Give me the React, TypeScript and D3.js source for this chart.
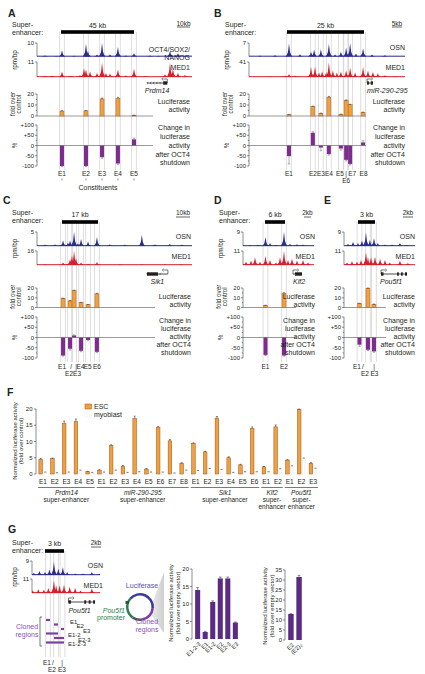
import React from "react";
import * as d3 from "d3";

const FONT = "'Liberation Sans', Arial, Helvetica, sans-serif";
const TXT = "#231f20";
const BLUE = "#2b2c8e";
const RED = "#d4202f";
const ORANGE = "#f0a040";
const ORANGE_EDGE = "#9c5410";
const PURPLE = "#7d2b8c";
const DEEP_PURPLE = "#5b2a84";
const CLONE_PURPLE = "#7e3f9c";
const GREEN = "#2f7d50";
const GUIDE = "#c8c8c8";

type Peak = [number, number];

// ===== Panel A : Prdm14 =====
const aConstituents = ["E1", "E2", "E3", "E4", "E5"];
const aPositionsKb = [0.6, 15.4, 25.3, 35.1, 45.0];
const aLuciferase = [4.5, 4.7, 15.5, 16.1, 0.7];
const aLuciferaseErr = [0.3, 0.2, 0.8, 0.8, 0.1];
const aChange = [-100, -100, -57, -88, 30];
const aChangeErr = [2, 2, 5, 4, 6];
const aOsnPeaks: Peak[] = [[-9.9, 0.8], [-3, 0.6], [0.6, 4.6], [8, 0.6], [15.4, 9.5], [16.6, 4], [22.2, 1.5], [25.3, 10], [30.2, 1.5], [35.1, 7], [40, 0.8], [45, 2.5], [54.9, 0.8], [60, 0.6], [67.2, 4], [72.1, 2.5], [77, 0.8]];
const aMedPeaks: Peak[] = [[-9.9, 1], [-5.5, 1], [0.6, 4], [6, 1], [11.7, 1.5], [14.2, 6.5], [15.4, 5.5], [17.9, 4], [22.2, 3], [25.3, 10.5], [27.7, 3], [30.2, 2.5], [35.1, 5.5], [40, 1.2], [45, 6], [52, 1], [64.1, 2], [67.2, 10.5], [69, 6], [72.1, 3], [76.4, 1.5]];

// ===== Panel B : miR-290-295 =====
const bConstituents = ["E1", "E2", "E3", "E4", "E5", "E6", "E7", "E8"];
const bPositionsKb = [0.65, 8.4, 11.0, 13.6, 17.5, 19.2, 20.5, 24.7];
const bLuciferase = [1.2, 8.7, 2.4, 17.1, 1.5, 14.3, 10.2, 3.3];
const bLuciferaseErr = [0.1, 0.3, 0.2, 0.7, 0.2, 0.3, 0.4, 0.2];
const bChange = [-52, 62, -10, -42, -15, -70, -90, 15];
const bChangeErr = [38, 5, 15, 5, 8, 5, 5, 8];
const bOsnPeaks: Peak[] = [[-8.8, 0.5], [-3.9, 0.6], [0.65, 6.8], [4.2, 1.2], [7.8, 2.5], [8.8, 3.5], [11.0, 3.7], [13.6, 6.5], [15.6, 1], [17.5, 2.5], [19.2, 4.5], [20.5, 7], [22.4, 1.5], [24.7, 4.2], [27.6, 1], [31.8, 0.6]];
const bMedPeaks: Peak[] = [[-5.5, 2], [-0.6, 4], [0.65, 8], [2.6, 4], [7.8, 27], [9.1, 29], [10.4, 12], [11.4, 16], [12.7, 12], [13.6, 40], [14.9, 18], [16.2, 12], [17.5, 15], [19.2, 18], [20.5, 25], [22.1, 12], [24.7, 27], [26.3, 18], [27.9, 14], [29.5, 10], [31.8, 5], [35.1, 2]];

// ===== Panel C : Sik1 =====
const cConstituents = ["E1", "E2", "E3", "E4", "E5", "E6"];
const cPositionsKb = [0.5, 3.8, 5.7, 9.0, 12.3, 16.5];
const cLuciferase = [9.4, 6.8, 17.2, 5.0, 2.8, 14.0];
const cLuciferaseErr = [0.2, 0.2, 0.5, 0.3, 0.2, 0.5];
const cChange = [-88, -55, 10, -65, -12, -70];
const cChangeErr = [3, 6, 3, 4, 4, 4];
const cOsnPeaks: Peak[] = [[-8, 0.5], [-3.3, 0.6], [0.5, 2], [2.8, 1.2], [3.8, 2], [5.7, 5], [7.5, 1], [9.0, 2.5], [12.3, 1.6], [16.5, 3.2], [22.6, 0.6], [29.7, 0.5], [37.7, 4], [43.9, 0.6], [50.9, 0.7], [56.6, 0.5]];
const cMedPeaks: Peak[] = [[-8, 0.8], [0.5, 3], [2.4, 1.5], [3.8, 7], [4.7, 11], [5.7, 16], [6.6, 8], [9, 3], [12.3, 1.5], [16.5, 3.5], [27.4, 0.8], [37.7, 1], [48.6, 0.8], [56, 0.8]];

// ===== Panel D : Klf2 =====
const dConstituents = ["E1", "E2"];
const dPositionsKb = [0.15, 5.7];
const dLuciferase = [2.2, 14.5];
const dLuciferaseErr = [0.1, 0.6];
const dChange = [-85, -88];
const dChangeErr = [3, 3];
const dOsnPeaks: Peak[] = [[-4.5, 0.6], [-2.1, 0.8], [0.15, 5.8], [1.5, 2], [3.3, 0.8], [5.7, 9], [7.5, 1.5], [9.6, 1.2], [11.4, 1]];
const dMedPeaks: Peak[] = [[-5.7, 2.5], [-4.2, 3.5], [-3, 6], [-1.5, 2.5], [0.15, 7], [1.5, 4], [3.3, 2], [4.5, 6], [5.7, 11], [6.9, 4], [8.1, 5], [9.6, 3.5], [11.4, 4], [12.9, 2]];

// ===== Panel E : Pou5f1 =====
const eConstituents = ["E1", "E2", "E3"];
const ePositionsKb = [0.26, 1.76, 2.82];
const eLuciferase = [4.3, 19.8, 3.3];
const eLuciferaseErr = [0.1, 0.2, 0.2];
const eChange = [-35, -60, -68];
const eChangeErr = [8, 4, 4];
const eOsnPeaks: Peak[] = [[-1.76, 1.5], [-0.88, 2.5], [0, 2], [0.7, 3.5], [1.41, 8.5], [2.1, 4], [2.82, 5], [3.5, 2], [4.76, 1], [6, 1], [7.4, 2], [8.6, 0.8]];
const eMedPeaks: Peak[] = [[-1.94, 2], [-1.06, 3], [-0.18, 2.5], [0.53, 4], [1.41, 10], [1.76, 6], [2.3, 6], [3.0, 6.5], [3.9, 5], [4.76, 4], [5.6, 2], [7.4, 3.5], [8.8, 1.5]];

// ===== Panel F : ESC vs myoblast =====
const fGroupNames = ["Prdm14", "miR-290-295", "Sik1", "Klf2", "Pou5f1"];
const fGroupSubtitles = [["super-enhancer"], ["super-enhancer"], ["super-enhancer"], ["super-", "enhancer"], ["super-", "enhancer"]];
const fMyoblast = [0.6, 0.4, 0.6, 1.2, 0.5, 0.6, 1.2, 0.5, 0.7, 0.6, 0.6, 0.3, 1.2, 1.1, 1.7, 1.4, 0.5, 0.7, 0.7, 0.7, 1.6, 2.5, 4.9, 1.8];
const fTicks = [0, 5, 10, 15, 20];

// ===== Panel G : Pou5f1 cloned regions =====
const gPositionsKb = [0.47, 1.74, 2.76];
const gClones = ["E1", "E2", "E3", "E1-2", "E2-3", "E1-2-3"];
const gCloneStartKb = [0.16, 1.42, 2.53, 0.16, 1.42, 0.16];
const gCloneEndKb = [0.79, 2.05, 3.0, 2.05, 3.0, 3.0];
const gBarLabels = ["E1-2-3", "E1", "E1-2", "E2", "E2-3", "E3"];
const gBarValues = [14, 2, 10.6, 17.3, 17.3, 4.7];
const gBarErr = [0.7, 0.2, 0.3, 0.4, 0.4, 0.15];
const gTicks = [0, 5, 10, 15, 20];
const gDimerLabels = ["E2", "(E2)\u2082"];
const gDimerValues = [13, 31.5];
const gDimerErr = [0.2, 0.8];
const gDimerTicks = [0, 5, 10, 15, 20, 25, 30, 35];

const lucTicks = [0, 10, 20];
const changeTicks = [100, 50, 0, -50, -100];

// ===== Layout =====
const ROW1 = { letter: 13, super1: 25, super2: 33, bar: 32, kbLabel: 26, scaleText: 23.5, scaleLine: 27, osnTop: 43, osnBase: 56.5, medTop: 62, medBase: 77, gene: 83, geneName: 90.5, lucTop: 94, lucBase: 116, lucText: [102, 110], chgTop: 125, chgBot: 166, chgTexts: [128, 137, 146, 155, 163], guideTop: 32, guideBot: 170, label1: 174, label2: 181 };
const ROW2 = { letter: 200, super1: 213, super2: 221, bar: 222, kbLabel: 215, scaleText: 213, scaleLine: 217, osnTop: 232, osnBase: 246, medTop: 251, medBase: 265, gene: 274, geneName: 281.5, lucTop: 288, lucBase: 307.5, lucText: [297, 304.5], chgTop: 317, chgBot: 358, chgTexts: [321, 329, 337, 345, 353], guideTop: 222, guideBot: 362, label1: 366.5, label2: 374 };

type LabelItem = { t: string; i: number; dx: number; row: number };

function T(props: any) {
  const { x, y, children, anchor = "start", size = 7, italic, bold, fill = TXT, rotate } = props;
  return (
    <text
      x={x}
      y={y}
      dy="0.35em"
      textAnchor={anchor}
      fontSize={size}
      fontFamily={FONT}
      fontStyle={italic ? "italic" : "normal"}
      fontWeight={bold ? "bold" : "normal"}
      fill={fill}
      transform={rotate ? `rotate(${rotate},${x},${y})` : undefined}
    >
      {children}
    </text>
  );
}

function Track({ x, peaks, yMax, top, base, x0, x1, color }: any) {
  const y = d3.scaleLinear().domain([0, yMax]).range([base, top]);
  const shape = [[-3.6, 0], [-2.2, 0.12], [-1, 0.36], [0, 1], [1, 0.36], [2.2, 0.12], [3.6, 0]];
  const area = d3.area<number[]>().x((d) => d[0]).y0(base).y1((d) => d[1]);
  return (
    <g>
      <line x1={x0} x2={x1} y1={base - 0.3} y2={base - 0.3} stroke={color} strokeWidth={1} />
      {peaks.map(([kb, h]: Peak, i: number) => {
        const cx = x(kb);
        const pts = shape.map(([dx, f]) => [Math.max(x0, Math.min(x1, cx + dx)), y(h * f)]);
        return <path key={i} d={area(pts) || ""} fill={color} />;
      })}
      <line x1={x0} x2={x0} y1={top} y2={base} stroke={TXT} strokeWidth={0.5} />
      <line x1={x0 - 2} x2={x0} y1={top} y2={top} stroke={TXT} strokeWidth={0.5} />
      <T x={x0 - 3} y={top} anchor="end" size={6}>{yMax}</T>
    </g>
  );
}

function Gene({ g, x, y, nameY }: any) {
  const x0 = x(g.start), x1 = x(g.end);
  const tss = g.strand > 0 ? x0 : x1;
  const dir = g.strand;
  const chevrons = g.chevrons ? d3.range(x0 + 2, x1 - 3, 3.2) : [];
  const nameX = g.anchor === "middle" ? (x0 + x1) / 2 : x0 + (g.nameDx || 0);
  return (
    <g>
      <line x1={x0} x2={x1} y1={y} y2={y} stroke={TXT} strokeWidth={0.8} />
      {chevrons.map((c: number, i: number) => (
        <path key={i} d={`M${c + dir * 1},${y - 1.2} L${c + dir * 2.2},${y} L${c + dir * 1},${y + 1.2}`} fill="none" stroke={TXT} strokeWidth={0.5} />
      ))}
      {g.exons.map(([a, b]: number[], i: number) => (
        <rect key={i} x={x(a)} y={y - 1.7} width={Math.max(1, x(b) - x(a))} height={3.4} fill={TXT} />
      ))}
      <path d={`M${tss},${y} L${tss},${y - 4} L${tss + dir * 4},${y - 4}`} fill="none" stroke={TXT} strokeWidth={0.6} />
      <path d={`M${tss + dir * 4},${y - 5.3} L${tss + dir * 5.6},${y - 4} L${tss + dir * 4},${y - 2.7}`} fill="none" stroke={TXT} strokeWidth={0.6} />
      <T x={nameX} y={nameY} anchor={g.anchor} italic size={7}>{g.name}</T>
    </g>
  );
}

function Header({ p, x, R }: any) {
  return (
    <g>
      <T x={p.letterX} y={R.letter} bold size={10.5}>{p.letter}</T>
      {p.superX !== undefined && (
        <g>
          <T x={p.superX} y={R.super1}>Super-</T>
          <T x={p.superX} y={R.super2}>enhancer:</T>
        </g>
      )}
      <rect x={x(0)} y={R.bar - 1.8} width={x(p.seKb) - x(0)} height={3.6} fill="#000" />
      <T x={(x(0) + x(p.seKb)) / 2} y={R.kbLabel} anchor="middle">{p.seLabel}</T>
      <T x={p.scaleRight - p.scaleWidth / 2} y={R.scaleText} anchor="middle" size={6.5}>{p.scaleText}</T>
      <line x1={p.scaleRight - p.scaleWidth} x2={p.scaleRight} y1={R.scaleLine} y2={R.scaleLine} stroke={TXT} strokeWidth={0.7} />
    </g>
  );
}

function Guides({ xs, top, bottom }: any) {
  return (
    <g>
      {xs.map((c: number, i: number) => (
        <g key={i}>
          <line x1={c - 2.4} x2={c - 2.4} y1={top} y2={bottom} stroke={GUIDE} strokeWidth={0.6} />
          <line x1={c + 2.4} x2={c + 2.4} y1={top} y2={bottom} stroke={GUIDE} strokeWidth={0.6} />
        </g>
      ))}
    </g>
  );
}

function EnhancerPanel({ p }: any) {
  const R = p.row;
  const x = d3.scaleLinear().domain([0, p.seKb]).range([p.seStartPx, p.seEndPx]);
  const cx: number[] = p.positions.map((k: number) => x(k));
  const yLuc = d3.scaleLinear().domain([0, 20]).range([R.lucBase, R.lucTop]);
  const yChg = d3.scaleLinear().domain([-100, 100]).range([R.chgBot, R.chgTop]);
  const ax = p.axisX;
  const chgLines = ["Change in", "luciferase", "activity", "after OCT4", "shutdown"];
  return (
    <g>
      <Guides xs={cx} top={R.guideTop} bottom={R.guideBot} />
      <Header p={p} x={x} R={R} />
      <Track x={x} peaks={p.osnPeaks} yMax={p.osnMax} top={R.osnTop} base={R.osnBase} x0={ax} x1={p.trackEnd} color={BLUE} />
      <Track x={x} peaks={p.medPeaks} yMax={p.medMax} top={R.medTop} base={R.medBase} x0={ax} x1={p.trackEnd} color={RED} />
      {p.osnLabel.map((s: string, i: number) => (
        <T key={i} x={p.textRight} y={R.osnTop + 5 + (p.osnLabel.length > 1 ? 2 + i * 7.2 : 0)} anchor="end">{s}</T>
      ))}
      <T x={p.textRight} y={R.medTop + 5.5} anchor="end">MED1</T>
      <Gene g={p.gene} x={x} y={R.gene} nameY={R.geneName} />
      {p.titles && (
        <g>
          <T x={ax - 22} y={(R.osnTop + R.medBase) / 2} anchor="middle" size={6.3} rotate={-90}>rpm/bp</T>
          <T x={ax - 24} y={(R.lucTop + R.lucBase) / 2 - 1} anchor="middle" size={6.3} rotate={-90}>fold over</T>
          <T x={ax - 18} y={(R.lucTop + R.lucBase) / 2 - 1} anchor="middle" size={6.3} rotate={-90}>control</T>
          <T x={ax - 22} y={yChg(0)} anchor="middle" size={6.3} rotate={-90}>%</T>
        </g>
      )}
      {/* luciferase axis */}
      <line x1={ax} x2={ax} y1={R.lucTop} y2={R.lucBase} stroke={TXT} strokeWidth={0.5} />
      {[0, 5, 10, 15, 20].map((t) => (
        <line key={t} x1={ax - (t % 10 === 0 ? 2 : 1.2)} x2={ax} y1={yLuc(t)} y2={yLuc(t)} stroke={TXT} strokeWidth={0.5} />
      ))}
      {lucTicks.map((t) => (
        <T key={t} x={ax - 3} y={yLuc(t)} anchor="end" size={6}>{t}</T>
      ))}
      <line x1={ax} x2={p.baseEnd} y1={yLuc(0)} y2={yLuc(0)} stroke="#555" strokeWidth={0.6} />
      {p.luc.map((v: number, i: number) => (
        <g key={i}>
          <rect x={cx[i] - 2} y={yLuc(v)} width={4} height={yLuc(0) - yLuc(v)} fill={ORANGE} stroke={ORANGE_EDGE} strokeWidth={0.4} />
          <line x1={cx[i]} x2={cx[i]} y1={yLuc(v)} y2={yLuc(v + p.lucErr[i])} stroke={TXT} strokeWidth={0.5} />
          <line x1={cx[i] - 1.2} x2={cx[i] + 1.2} y1={yLuc(v + p.lucErr[i])} y2={yLuc(v + p.lucErr[i])} stroke={TXT} strokeWidth={0.5} />
        </g>
      ))}
      <T x={p.textRight} y={R.lucText[0]} anchor="end">Luciferase</T>
      <T x={p.textRight} y={R.lucText[1]} anchor="end">activity</T>
      {/* change axis */}
      <line x1={ax} x2={ax} y1={R.chgTop} y2={R.chgBot} stroke={TXT} strokeWidth={0.5} />
      {[100, 75, 50, 25, 0, -25, -50, -75, -100].map((t) => (
        <line key={t} x1={ax - (t % 50 === 0 ? 2 : 1.2)} x2={ax} y1={yChg(t)} y2={yChg(t)} stroke={TXT} strokeWidth={0.5} />
      ))}
      {changeTicks.map((t) => (
        <T key={t} x={ax - 3} y={yChg(t)} anchor="end" size={6}>{t > 0 ? `+${t}` : `${t}`}</T>
      ))}
      {p.change.map((v: number, i: number) => {
        const e = v >= 0 ? v + p.changeErr[i] : v - p.changeErr[i];
        return (
          <g key={i}>
            <line x1={cx[i]} x2={cx[i]} y1={yChg(v)} y2={yChg(e)} stroke="#666" strokeWidth={0.5} />
            <line x1={cx[i] - 1.2} x2={cx[i] + 1.2} y1={yChg(e)} y2={yChg(e)} stroke="#666" strokeWidth={0.5} />
            <rect x={cx[i] - 2} y={Math.min(yChg(v), yChg(0))} width={4} height={Math.abs(yChg(v) - yChg(0))} fill={PURPLE} />
          </g>
        );
      })}
      <line x1={ax} x2={p.baseEnd} y1={yChg(0)} y2={yChg(0)} stroke="#555" strokeWidth={0.6} />
      {chgLines.map((s, i) => (
        <T key={i} x={p.textRight} y={R.chgTexts[i]} anchor="end">{s}</T>
      ))}
      {p.labels.map((l: LabelItem, k: number) => (
        <T key={k} x={cx[l.i] + l.dx} y={l.row === 1 ? R.label1 : R.label2} anchor="middle" size={6.5}>{l.t}</T>
      ))}
      {p.constituentTicks && (
        <g>
          {cx.map((c, i) => (
            <line key={i} x1={c} x2={c} y1={R.label1 + 4.5} y2={R.label1 + 6.5} stroke={TXT} strokeWidth={0.5} />
          ))}
          <T x={(cx[0] + cx[cx.length - 1]) / 2} y={188} anchor="middle">Constituents</T>
        </g>
      )}
    </g>
  );
}

const simpleLabels = (names: string[]): LabelItem[] => names.map((t, i) => ({ t, i, dx: 0, row: 1 }));

const panels = [
  {
    letter: "A", letterX: 8, row: ROW1, superX: 12, titles: true, axisX: 37, trackEnd: 192, textRight: 190,
    seStartPx: 61, seEndPx: 134, seKb: 45, seLabel: "45 kb", scaleText: "10kb", scaleRight: 190, scaleWidth: 13,
    osnLabel: ["OCT4/SOX2/", "NANOG"], osnMax: 10, medMax: 11, osnPeaks: aOsnPeaks, medPeaks: aMedPeaks,
    positions: aPositionsKb, luc: aLuciferase, lucErr: aLuciferaseErr, change: aChange, changeErr: aChangeErr,
    baseEnd: 153, labels: simpleLabels(aConstituents), constituentTicks: true,
    gene: { name: "Prdm14", start: 53, end: 65.5, strand: -1, exons: [[63, 65.5]], chevrons: true, anchor: "middle" },
  },
  {
    letter: "B", letterX: 214, row: ROW1, superX: 225, titles: true, axisX: 249, trackEnd: 405, textRight: 405,
    seStartPx: 287, seEndPx: 364, seKb: 25, seLabel: "25 kb", scaleText: "5kb", scaleRight: 402, scaleWidth: 10,
    osnLabel: ["OSN"], osnMax: 7, medMax: 41, osnPeaks: bOsnPeaks, medPeaks: bMedPeaks,
    positions: bPositionsKb, luc: bLuciferase, lucErr: bLuciferaseErr, change: bChange, changeErr: bChangeErr,
    baseEnd: 366,
    labels: [
      { t: "E1", i: 0, dx: 0, row: 1 }, { t: "E2", i: 1, dx: 0, row: 1 }, { t: "E3", i: 2, dx: 0, row: 1 },
      { t: "E4", i: 3, dx: 0, row: 1 }, { t: "E5", i: 4, dx: -1, row: 1 }, { t: "|", i: 5, dx: 0, row: 1 },
      { t: "E7", i: 6, dx: 2, row: 1 }, { t: "E8", i: 7, dx: 0.5, row: 1 }, { t: "E6", i: 5, dx: 0, row: 2 },
    ],
    gene: { name: "miR-290-295", start: 26, end: 27.9, strand: 1, exons: [[26, 26.6], [27.2, 27.9]], chevrons: false, anchor: "start" },
  },
  {
    letter: "C", letterX: 3, row: ROW2, superX: 12, titles: true, axisX: 37, trackEnd: 192, textRight: 191,
    seStartPx: 62, seEndPx: 98, seKb: 17, seLabel: "17 kb", scaleText: "10kb", scaleRight: 190, scaleWidth: 14,
    osnLabel: ["OSN"], osnMax: 5, medMax: 16, osnPeaks: cOsnPeaks, medPeaks: cMedPeaks,
    positions: cPositionsKb, luc: cLuciferase, lucErr: cLuciferaseErr, change: cChange, changeErr: cChangeErr,
    baseEnd: 155,
    labels: [
      { t: "E1", i: 0, dx: -1, row: 1 }, { t: "/", i: 1, dx: 1, row: 1 }, { t: "E2", i: 1, dx: -1, row: 2 },
      { t: "|", i: 2, dx: 2, row: 1 }, { t: "E3", i: 2, dx: 3, row: 2 }, { t: "E4", i: 3, dx: -0.5, row: 1 },
      { t: "E5", i: 4, dx: -0.3, row: 1 }, { t: "E6", i: 5, dx: 0, row: 1 },
    ],
    gene: { name: "Sik1", start: 40.1, end: 50, strand: -1, exons: [[40.1, 45.3]], chevrons: true, anchor: "middle" },
  },
  {
    letter: "D", letterX: 214, row: ROW2, superX: 219, titles: true, axisX: 243, trackEnd: 314, textRight: 315,
    seStartPx: 265, seEndPx: 285, seKb: 6, seLabel: "6 kb", scaleText: "2kb", scaleRight: 311, scaleWidth: 7,
    osnLabel: ["OSN"], osnMax: 9, medMax: 11, osnPeaks: dOsnPeaks, medPeaks: dMedPeaks,
    positions: dPositionsKb, luc: dLuciferase, lucErr: dLuciferaseErr, change: dChange, changeErr: dChangeErr,
    baseEnd: 296, labels: simpleLabels(dConstituents),
    gene: { name: "Klf2", start: 8.4, end: 11.1, strand: 1, exons: [[9.0, 11.1]], chevrons: false, anchor: "start", nameDx: 0 },
  },
  {
    letter: "E", letterX: 324, row: ROW2, titles: false, axisX: 344, trackEnd: 415, textRight: 415,
    seStartPx: 358, seEndPx: 375, seKb: 3, seLabel: "3 kb", scaleText: "2kb", scaleRight: 413, scaleWidth: 10,
    osnLabel: ["OSN"], osnMax: 9, medMax: 11, osnPeaks: eOsnPeaks, medPeaks: eMedPeaks,
    positions: ePositionsKb, luc: eLuciferase, lucErr: eLuciferaseErr, change: eChange, changeErr: eChangeErr,
    baseEnd: 386,
    labels: [
      { t: "E1", i: 0, dx: -2.5, row: 1 }, { t: "/", i: 1, dx: -5, row: 1 }, { t: "E2", i: 1, dx: -3, row: 2 },
      { t: "|", i: 2, dx: 0, row: 1 }, { t: "E3", i: 2, dx: 0.5, row: 2 },
    ],
    gene: { name: "Pou5f1", start: 4.06, end: 8.64, strand: 1, exons: [[4.06, 4.5], [6.9, 7.2], [7.6, 7.9], [8.3, 8.64]], chevrons: false, anchor: "start", nameDx: -1 },
  },
];

function PanelF() {
  const escValues = [...aLuciferase, ...bLuciferase, ...cLuciferase, ...dLuciferase, ...eLuciferase];
  const escErr = [...aLuciferaseErr, ...bLuciferaseErr, ...cLuciferaseErr, ...dLuciferaseErr, ...eLuciferaseErr];
  const groups = [aConstituents, bConstituents, cConstituents, dConstituents, eConstituents];
  const labels = groups.flat();
  const idx = d3.range(labels.length);
  const xb = d3.scaleBand<number>().domain(idx).range([37, 319]);
  const y = d3.scaleLinear().domain([0, 20]).range([474, 409]);
  let start = 0;
  const spans = groups.map((g) => {
    const s = start;
    start += g.length;
    return [s, start - 1];
  });
  return (
    <g>
      <T x={7} y={392} bold size={10.5}>F</T>
      <line x1={36} x2={36} y1={y(20)} y2={y(0)} stroke={TXT} strokeWidth={0.5} />
      {fTicks.map((t) => (
        <g key={t}>
          <line x1={34} x2={36} y1={y(t)} y2={y(t)} stroke={TXT} strokeWidth={0.5} />
          <T x={32.5} y={y(t)} anchor="end" size={6}>{t}</T>
        </g>
      ))}
      <T x={15} y={441} anchor="middle" size={6} rotate={-90}>Normalized luciferase activity</T>
      <T x={21} y={441} anchor="middle" size={6} rotate={-90}>(fold over control)</T>
      {idx.map((i) => {
        const c = (xb(i) as number) + xb.bandwidth() / 2;
        const v = escValues[i];
        const m = fMyoblast[i];
        return (
          <g key={i}>
            <rect x={c - 4} y={y(v)} width={3.6} height={y(0) - y(v)} fill={ORANGE} stroke={ORANGE_EDGE} strokeWidth={0.5} />
            <line x1={c - 2.2} x2={c - 2.2} y1={y(v)} y2={y(v + escErr[i])} stroke={TXT} strokeWidth={0.5} />
            <line x1={c - 3.2} x2={c - 1.2} y1={y(v + escErr[i])} y2={y(v + escErr[i])} stroke={TXT} strokeWidth={0.5} />
            <rect x={c + 1.2} y={y(m)} width={2.4} height={y(0) - y(m)} fill="#fbfbfb" stroke="#e2e2e2" strokeWidth={0.3} />
            <line x1={c + 1.4} x2={c + 3.4} y1={y(m)} y2={y(m)} stroke="#444" strokeWidth={0.7} />
            <T x={c} y={482} anchor="middle" size={6.5}>{labels[i]}</T>
          </g>
        );
      })}
      {spans.map(([s, e], gi) => {
        const x0 = (xb(s) as number) + 1;
        const x1 = (xb(e) as number) + xb.bandwidth() - 1;
        return (
          <g key={gi}>
            <line x1={x0} x2={x1} y1={487.5} y2={487.5} stroke={TXT} strokeWidth={0.6} />
            <T x={(x0 + x1) / 2} y={493} anchor="middle" italic size={6.5}>{fGroupNames[gi]}</T>
            {fGroupSubtitles[gi].map((st, k) => (
              <T key={k} x={(x0 + x1) / 2} y={500 + k * 7} anchor="middle" size={6.5}>{st}</T>
            ))}
          </g>
        );
      })}
      <rect x={85} y={404} width={6.5} height={5} fill={ORANGE} stroke={ORANGE_EDGE} strokeWidth={0.5} />
      <T x={94} y={406.5} size={7}>ESC</T>
      <rect x={85} y={412.5} width={6.5} height={5} fill="#fbfbfb" stroke="#eee" strokeWidth={0.3} />
      <T x={94} y={415} size={7}>myoblast</T>
    </g>
  );
}

function PanelG() {
  const R = { letter: 529, super1: 543, super2: 551, bar: 551, kbLabel: 544, scaleText: 543, scaleLine: 547, osnTop: 561, osnBase: 575, medTop: 579, medBase: 593 };
  const p = { letter: "G", letterX: 8, superX: 12, seKb: 3, seLabel: "3 kb", scaleText: "2kb", scaleRight: 101, scaleWidth: 10 };
  const x = d3.scaleLinear().domain([0, 3]).range([45, 64]);
  const cx = gPositionsKb.map((k) => x(k));
  const ax = 32, trackEnd = 100;
  const cloneY = [620, 624.5, 629, 633.5, 638, 642.5];
  const cloneLabelX = [70, 76.5, 83, 68, 78, 68];
  const labels: LabelItem[] = [
    { t: "E1", i: 0, dx: -1, row: 1 }, { t: "/", i: 1, dx: -3, row: 1 }, { t: "E2", i: 1, dx: -4, row: 2 },
    { t: "|", i: 2, dx: -0.5, row: 1 }, { t: "E3", i: 2, dx: -0.5, row: 2 },
  ];
  const xbar = d3.scaleBand<number>().domain(d3.range(gBarLabels.length)).range([194, 239]).paddingInner(0.33).paddingOuter(0.15);
  const ybar = d3.scaleLinear().domain([0, 20]).range([639, 569]);
  const xdim = d3.scaleBand<number>().domain(d3.range(gDimerLabels.length)).range([287, 303]).paddingInner(0.33).paddingOuter(0.15);
  const ydim = d3.scaleLinear().domain([0, 35]).range([640, 570]);
  const arc = d3.arc();
  const ring = [
    { a0: -50, a1: 95, c: "#3b3a9c" },
    { a0: 95, a1: 170, c: "#7e3f9c" },
    { a0: 170, a1: 215, c: "#555" },
    { a0: 215, a1: 310, c: GREEN },
  ];
  const rad = Math.PI / 180;
  return (
    <g>
      <Guides xs={cx} top={551} bottom={657} />
      <Header p={p} x={x} R={R} />
      <Track x={x} peaks={eOsnPeaks} yMax={9} top={R.osnTop} base={R.osnBase} x0={ax} x1={trackEnd} color={BLUE} />
      <Track x={x} peaks={eMedPeaks} yMax={11} top={R.medTop} base={R.medBase} x0={ax} x1={trackEnd} color={RED} />
      <T x={103} y={566} anchor="end">OSN</T>
      <T x={103} y={585.5} anchor="end">MED1</T>
      <T x={15} y={577} anchor="middle" size={6.3} rotate={-90}>rpm/bp</T>
      <Gene g={{ name: "Pou5f1", start: 3.7, end: 7.9, strand: 1, exons: [[3.7, 4.1], [6.2, 6.5], [6.9, 7.2], [7.6, 7.9]], chevrons: false, anchor: "start" }} x={x} y={602} nameY={611} />
      {gClones.map((c, i) => (
        <g key={c}>
          <line x1={x(gCloneStartKb[i])} x2={x(gCloneEndKb[i])} y1={cloneY[i]} y2={cloneY[i]} stroke={CLONE_PURPLE} strokeWidth={2.2} />
          <T x={cloneLabelX[i]} y={cloneY[i] + 1.8} size={6}>{c}</T>
        </g>
      ))}
      <path d="M42,617 L40,617 L40,646 L42,646" fill="none" stroke={TXT} strokeWidth={0.6} />
      <T x={27} y={627} anchor="middle" fill="#8a4fb3" size={7}>Cloned</T>
      <T x={27} y={635} anchor="middle" fill="#8a4fb3" size={7}>regions</T>
      {labels.map((l, k) => (
        <T key={k} x={cx[l.i] + l.dx} y={l.row === 1 ? 662.5 : 669.5} anchor="middle" size={6.5}>{l.t}</T>
      ))}
      <defs>
        <linearGradient id="wedge" x1="0" x2="1" y1="0" y2="0">
          <stop offset="0" stopColor="#f0f0f0" />
          <stop offset="1" stopColor="#cfcfcf" />
        </linearGradient>
      </defs>
      <path d="M149,612 L164,572 L164,633 Z" fill="url(#wedge)" />
      <g transform="translate(140,607)">
        {ring.map((r, i) => (
          <path key={i} d={arc({ innerRadius: 11.5, outerRadius: 14, startAngle: r.a0 * rad, endAngle: r.a1 * rad }) || ""} fill={r.c} />
        ))}
        <rect x={-14.5} y={-6} width={3.5} height={3} fill="#1f5e3a" />
      </g>
      <T x={142} y={586} anchor="middle" fill="#5b4fa8" size={7}>Luciferase</T>
      <T x={125} y={611} anchor="end" fill={GREEN} italic size={7}>Pou5f1</T>
      <T x={125} y={617.5} anchor="end" fill={GREEN} size={7}>promoter</T>
      <T x={147} y={622} anchor="middle" fill="#8a4fb3" size={7}>Cloned</T>
      <T x={147} y={630} anchor="middle" fill="#8a4fb3" size={7}>regions</T>
      <line x1={192} x2={192} y1={ybar(20)} y2={ybar(0)} stroke={TXT} strokeWidth={0.5} />
      {gTicks.map((t) => (
        <g key={t}>
          <line x1={190} x2={192} y1={ybar(t)} y2={ybar(t)} stroke={TXT} strokeWidth={0.5} />
          <T x={189} y={ybar(t)} anchor="end" size={6}>{t}</T>
        </g>
      ))}
      <T x={171} y={603} anchor="middle" size={6} rotate={-90}>Normalized luciferase activity</T>
      <T x={177.5} y={603} anchor="middle" size={6} rotate={-90}>(fold over empty vector)</T>
      {gBarValues.map((v, i) => {
        const bx = xbar(i) as number;
        const w = xbar.bandwidth();
        const c = bx + w / 2;
        return (
          <g key={i}>
            <rect x={bx} y={ybar(v)} width={w} height={ybar(0) - ybar(v)} fill={DEEP_PURPLE} />
            <line x1={c} x2={c} y1={ybar(v)} y2={ybar(v + gBarErr[i])} stroke={TXT} strokeWidth={0.5} />
            <line x1={c - 1.3} x2={c + 1.3} y1={ybar(v + gBarErr[i])} y2={ybar(v + gBarErr[i])} stroke={TXT} strokeWidth={0.5} />
            <T x={c + 2} y={643} anchor="end" size={5.8} rotate={-45}>{gBarLabels[i]}</T>
          </g>
        );
      })}
      <line x1={285} x2={285} y1={ydim(35)} y2={ydim(0)} stroke={TXT} strokeWidth={0.5} />
      {gDimerTicks.map((t) => (
        <g key={t}>
          <line x1={283} x2={285} y1={ydim(t)} y2={ydim(t)} stroke={TXT} strokeWidth={0.5} />
          <T x={282} y={ydim(t)} anchor="end" size={6}>{t}</T>
        </g>
      ))}
      <T x={265} y={606} anchor="middle" size={6} rotate={-90}>Normalized luciferase activity</T>
      <T x={271.5} y={606} anchor="middle" size={6} rotate={-90}>(fold over empty vector)</T>
      {gDimerValues.map((v, i) => {
        const bx = xdim(i) as number;
        const w = xdim.bandwidth();
        const c = bx + w / 2;
        return (
          <g key={i}>
            <rect x={bx} y={ydim(v)} width={w} height={ydim(0) - ydim(v)} fill={DEEP_PURPLE} />
            <line x1={c} x2={c} y1={ydim(v)} y2={ydim(v + gDimerErr[i])} stroke={TXT} strokeWidth={0.5} />
            <line x1={c - 1.3} x2={c + 1.3} y1={ydim(v + gDimerErr[i])} y2={ydim(v + gDimerErr[i])} stroke={TXT} strokeWidth={0.5} />
            <T x={c + 2} y={644} anchor="end" size={5.8} rotate={-45}>{gDimerLabels[i]}</T>
          </g>
        );
      })}
    </g>
  );
}

export default function App() {
  return (
    <svg width={425} height={674} viewBox="0 0 425 674" style={{ position: "absolute", left: 0, top: 0, background: "#fff" }}>
      <rect x={0} y={0} width={425} height={674} fill="#fff" />
      {panels.map((p) => (
        <EnhancerPanel key={p.letter} p={p} />
      ))}
      <PanelF />
      <PanelG />
    </svg>
  );
}
